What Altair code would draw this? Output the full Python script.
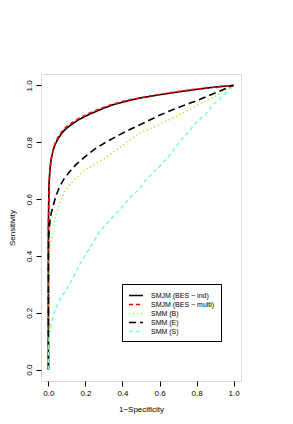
import altair as alt
import pandas as pd

# ROC curves
names = ["SMJM (BES \u2212 ind)", "SMJM (BES \u2212 multi)", "SMM (B)", "SMM (E)", "SMM (S)"]
colors = ["#000000", "#FF0000", "#7FFF00", "#000000", "#7FFFD4"]
dashes = [[1, 0], [4, 3], [1, 3], [7, 4], [4, 3]]

ind_x = [0, 0, 0.003, 0.008, 0.015, 0.025, 0.035, 0.05, 0.07, 0.09, 0.12, 0.16, 0.22, 0.3, 0.35, 0.4, 0.45, 0.5, 0.6, 0.7, 0.8, 0.9, 1.0]
ind_y = [0, 0.5, 0.65, 0.70, 0.74, 0.77, 0.79, 0.81, 0.83, 0.845, 0.86, 0.878, 0.898, 0.92, 0.932, 0.941, 0.949, 0.956, 0.967, 0.977, 0.986, 0.994, 1.0]

multi_x = [0, 0, 0.003, 0.008, 0.015, 0.025, 0.035, 0.05, 0.07, 0.09, 0.12, 0.16, 0.22, 0.3, 0.35, 0.4, 0.45, 0.5, 0.6, 0.7, 0.8, 0.9, 1.0]
multi_y = [0, 0.5, 0.65, 0.70, 0.742, 0.773, 0.794, 0.815, 0.835, 0.85, 0.865, 0.882, 0.902, 0.923, 0.934, 0.943, 0.951, 0.957, 0.968, 0.978, 0.987, 0.994, 1.0]

b_x = [0, 0, 0.005, 0.016, 0.033, 0.06, 0.085, 0.114, 0.16, 0.2, 0.25, 0.31, 0.38, 0.44, 0.5, 0.6, 0.7, 0.8, 0.9, 1.0]
b_y = [0, 0.38, 0.42, 0.456, 0.526, 0.585, 0.622, 0.65, 0.682, 0.703, 0.723, 0.746, 0.779, 0.808, 0.834, 0.863, 0.894, 0.928, 0.962, 1.0]

e_x = [0, 0, 0.003, 0.008, 0.015, 0.025, 0.04, 0.06, 0.085, 0.114, 0.15, 0.2, 0.25, 0.31, 0.38, 0.44, 0.5, 0.6, 0.7, 0.8, 0.9, 1.0]
e_y = [0, 0.42, 0.48, 0.52, 0.55, 0.575, 0.61, 0.643, 0.672, 0.696, 0.722, 0.75, 0.776, 0.80, 0.825, 0.845, 0.863, 0.895, 0.922, 0.946, 0.973, 1.0]

s_x = [0, 0, 0.006, 0.016, 0.033, 0.06, 0.096, 0.132, 0.177, 0.222, 0.276, 0.33, 0.384, 0.44, 0.49, 0.53, 0.6, 0.65, 0.707, 0.75, 0.797, 0.85, 0.887, 0.94, 1.0]
s_y = [0, 0.08, 0.117, 0.164, 0.205, 0.246, 0.281, 0.322, 0.38, 0.427, 0.485, 0.525, 0.561, 0.605, 0.635, 0.67, 0.715, 0.75, 0.80, 0.832, 0.868, 0.9, 0.93, 0.962, 1.0]

tick_vals = [0.0, 0.2, 0.4, 0.6, 0.8, 1.0]

series = [(ind_x, ind_y), (multi_x, multi_y), (b_x, b_y), (e_x, e_y), (s_x, s_y)]
rows = []
for name, (xs, ys) in zip(names, series):
    for i, (a, b) in enumerate(zip(xs, ys)):
        rows.append({"model": name, "fpr": a, "tpr": b, "i": i})
df = pd.DataFrame(rows)

font = "Liberation Sans"

chart = alt.Chart(df).mark_line(strokeWidth=1.6).encode(
    x=alt.X("fpr:Q", title="1\u2212Specificity",
            scale=alt.Scale(domain=[-0.04, 1.04], nice=False, zero=False),
            axis=alt.Axis(values=tick_vals, format=".1f", grid=False, domain=False,
                          tickSize=5, tickColor="black", labelColor="black",
                          labelFontSize=8, labelFont=font, labelPadding=3,
                          titleFontSize=8, titleFont=font, titleFontWeight="normal",
                          titleColor="black", titlePadding=8)),
    y=alt.Y("tpr:Q", title="Sensitivity",
            scale=alt.Scale(domain=[-0.04, 1.04], nice=False, zero=False),
            axis=alt.Axis(values=tick_vals, format=".1f", grid=False, domain=False,
                          tickSize=5, tickColor="black", labelColor="black",
                          labelFontSize=8, labelFont=font, labelAngle=-90,
                          labelAlign="center", labelBaseline="bottom", labelPadding=3,
                          titleFontSize=8, titleFont=font, titleFontWeight="normal",
                          titleColor="black", titlePadding=9)),
    color=alt.Color("model:N", scale=alt.Scale(domain=names, range=colors),
                    legend=alt.Legend(title=None, orient="none", legendX=81, legendY=210,
                                      symbolType="M-1,0H2.1", symbolSize=81,
                                      symbolStrokeWidth=1.6, labelFontSize=7,
                                      labelFont=font, labelColor="black",
                                      strokeColor="black", padding=6, rowPadding=0,
                                      labelOffset=12)),
    strokeDash=alt.StrokeDash("model:N", scale=alt.Scale(domain=names, range=dashes),
                              legend=None),
    detail="model:N",
    order=alt.Order("i:Q"),
).properties(
    width=200, height=307,
    autosize=alt.AutoSizeParams(type="none"),
    padding={"left": 33, "top": 66, "right": 44, "bottom": 35},
).configure_view(stroke="black", strokeWidth=1).configure(background="white")

chart.save("out.html", embed_options={"renderer": "svg", "actions": False})
